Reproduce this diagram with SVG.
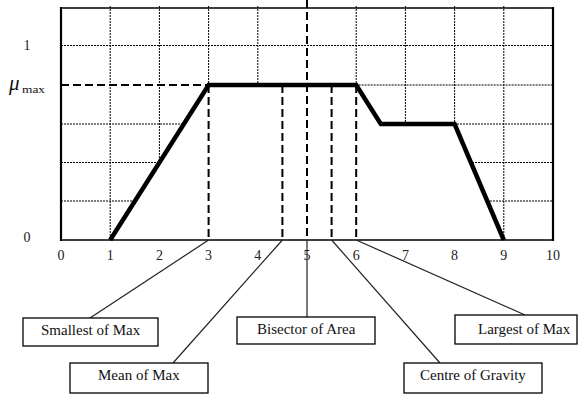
<svg xmlns="http://www.w3.org/2000/svg" width="583" height="394" viewBox="0 0 583 394">
<style>
.grid{stroke:#000;stroke-width:1;stroke-dasharray:2 1;fill:none}
.dash{stroke:#000;stroke-width:2;stroke-dasharray:8 4;fill:none}
.frame{stroke:#000;fill:none}
.curve{stroke:#000;stroke-width:4.5;fill:none;stroke-linejoin:miter}
.lead{stroke:#222;stroke-width:1.2;fill:none}
.box{fill:#fff;stroke:#000;stroke-width:1.3}
.lbl{font-family:"Liberation Serif",serif;font-size:15px;fill:#111}
.tick{font-family:"Liberation Serif",serif;font-size:14px;fill:#222;text-anchor:middle}
</style>
<rect width="583" height="394" fill="#fff"/>
<g id="grid">
<path class="grid" d="M110.2,6V240M159.4,6V240M208.6,6V240M257.8,6V240M356.2,6V240M405.4,6V240M454.6,6V240M503.8,6V240"/>
<path class="grid" d="M61,45.5H553M61,124H553M61,162.5H553M61,201H553M208.6,85H553"/>
</g>
<polygon id="under" points="110.2,240 208.6,85 356.2,85 380.8,124 454.6,124 503.8,240" fill="#fff"/>
<g id="frame">
<line class="frame" x1="61" y1="8" x2="553" y2="8" stroke-width="1.4"/>
<line class="frame" x1="61" y1="7" x2="61" y2="241" stroke-width="2.2"/>
<line class="frame" x1="553" y1="7" x2="553" y2="241" stroke-width="2.2"/>
<line class="frame" x1="60" y1="240" x2="554" y2="240" stroke-width="1.4"/>
</g>
<g id="dashes">
<path class="dash" d="M61,85H208.6"/>
<path class="dash" d="M208.6,85V240M282.4,85V240M331.6,85V240M356.2,85V240"/>
<path class="dash" d="M307,0V240"/>
</g>
<polyline id="membership" class="curve" points="110.2,240 208.6,85 356.2,85 380.8,124 454.6,124 503.8,240"/>
<g id="axis-labels">
<text class="tick" x="61" y="260">0</text>
<text class="tick" x="110.2" y="260">1</text>
<text class="tick" x="159.4" y="260">2</text>
<text class="tick" x="208.6" y="260">3</text>
<text class="tick" x="257.8" y="260">4</text>
<text class="tick" x="307" y="260">5</text>
<text class="tick" x="356.2" y="260">6</text>
<text class="tick" x="405.4" y="260">7</text>
<text class="tick" x="454.6" y="260">8</text>
<text class="tick" x="503.8" y="260">9</text>
<text class="tick" x="553" y="260">10</text>
<text class="tick" x="27" y="50">1</text>
<text class="tick" x="27" y="242">0</text>
<text x="9" y="90" font-family="Liberation Serif,serif" font-style="italic" font-size="21" fill="#111">μ</text>
<text x="22" y="93" font-family="Liberation Serif,serif" font-size="11" fill="#111" textLength="23" lengthAdjust="spacingAndGlyphs">max</text>
</g>
<g id="connectors">
<line class="lead" x1="208.6" y1="240" x2="90" y2="318"/>
<line class="lead" x1="282.4" y1="240" x2="173" y2="363"/>
<line class="lead" x1="307" y1="240" x2="307" y2="317"/>
<line class="lead" x1="331.6" y1="240" x2="440" y2="363"/>
<line class="lead" x1="356.2" y1="240" x2="525" y2="315"/>
</g>
<g id="smallest-of-max">
<rect class="box" x="23" y="318" width="135" height="28"/>
<text class="lbl" x="41" y="335">Smallest of Max</text>
</g>
<g id="mean-of-max">
<rect class="box" x="70" y="363" width="138" height="30"/>
<text class="lbl" x="98" y="380">Mean of Max</text>
</g>
<g id="bisector-of-area">
<rect class="box" x="237" y="317" width="138" height="27"/>
<text class="lbl" x="257" y="334">Bisector of Area</text>
</g>
<g id="centre-of-gravity">
<rect class="box" x="404" y="363" width="138" height="30"/>
<text class="lbl" x="420" y="380">Centre of Gravity</text>
</g>
<g id="largest-of-max">
<rect class="box" x="455" y="315" width="122" height="29"/>
<text class="lbl" x="478" y="334">Largest of Max</text>
</g>
</svg>
